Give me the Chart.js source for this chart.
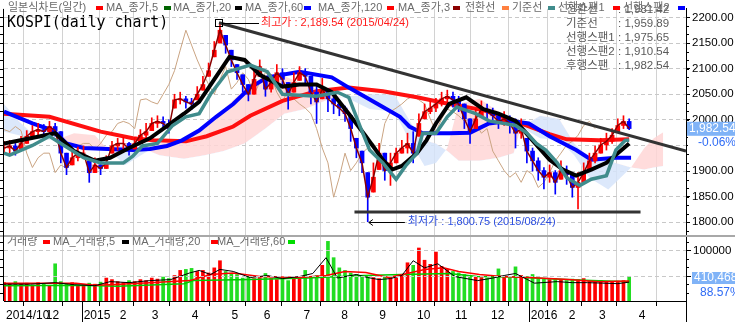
<!DOCTYPE html>
<html>
<head>
<meta charset="utf-8">
<script src="https://cdn.jsdelivr.net/npm/chart.js@4.4.1/dist/chart.umd.min.js"></script>
<style>
  html, body { margin: 0; padding: 0; background: #fff; overflow: hidden; }
  canvas { display: block; }
</style>
</head>
<body>
<canvas id="kospiChart" width="735" height="322"></canvas>
<script>
// x values are trading-day indices counted from the first candle on screen
const SAMPLE_STEP = 3;      // one candle sample every 3 trading days
const LAG_DAYS = 18;        // 후행스팬 is drawn shifted back by this many days

const monthDays = [0, 21, 41, 60, 77, 98, 119, 136, 157, 177, 197, 217, 237, 256, 277, 297, 313, 334];
const monthLabels = ["2014/10", "12", "2015", "2", "3", "4", "5", "6", "7", "8", "9", "10", "11", "12", "2016", "2", "3", "4"];
const priceTicks = [1800, 1850, 1900, 1950, 2000, 2050, 2100, 2150, 2200];
const volumeTicks = [50000, 100000];

// KOSPI samples (close / low / high)
const closes = [
    1945, 1949, 1939, 1954, 1968, 1977, 1981, 1977, 1987, 1979,
    1935, 1907, 1926, 1935, 1935, 1897, 1912, 1905, 1916, 1949,
    1954, 1954, 1943, 1954, 1970, 1977, 1993, 1997, 1993, 1983,
    2039, 2041, 2035, 2031, 2050, 2069, 2096, 2136, 2175, 2146,
    2117, 2092, 2069, 2050, 2079, 2104, 2060, 2073, 2092, 2079,
    2050, 2073, 2092, 2085, 2054, 2035, 2060, 2041, 2031, 2023,
    2012, 1983, 1945, 1916, 1849, 1888, 1935, 1901, 1916, 1935,
    1945, 1954, 1935, 1993, 2016, 2023, 2031, 2041, 2046, 2039,
    2031, 2002, 1977, 2002, 2021, 2016, 2008, 1997, 2002, 1993,
    1974, 1983, 1939, 1920, 1901, 1888, 1897, 1878, 1901, 1893,
    1868, 1878, 1897, 1920, 1935, 1951, 1958, 1970, 1989, 1997,
    1983
];
const lows = [
    1935, 1935, 1931, 1943, 1954, 1964, 1970, 1966, 1974, 1968,
    1916, 1893, 1912, 1920, 1924, 1878, 1897, 1893, 1905, 1935,
    1941, 1943, 1931, 1943, 1954, 1962, 1979, 1985, 1981, 1974,
    2023, 2031, 2023, 2020, 2039, 2058, 2085, 2123, 2150, 2130,
    2104, 2079, 2054, 2037, 2050, 2085, 2046, 2054, 2073, 2065,
    2021, 2054, 2077, 2069, 2031, 1993, 2041, 2016, 2012, 2008,
    1997, 1958, 1926, 1897, 1801, 1859, 1903, 1882, 1872, 1916,
    1935, 1935, 1916, 1968, 2002, 2012, 2016, 2027, 2031, 2025,
    2016, 1983, 1954, 1983, 2006, 2002, 1993, 1983, 1989, 1974,
    1945, 1964, 1916, 1900, 1882, 1865, 1878, 1855, 1884, 1874,
    1849, 1826, 1878, 1903, 1916, 1935, 1941, 1954, 1977, 1983,
    1981
];
const highs = [
    1958, 1960, 1954, 1968, 1979, 1989, 1993, 1991, 1997, 1993,
    1977, 1935, 1939, 1947, 1949, 1920, 1926, 1920, 1930, 1958,
    1964, 1966, 1956, 1966, 1981, 1993, 2004, 2008, 2006, 2000,
    2050, 2054, 2046, 2042, 2065, 2085, 2111, 2153, 2190, 2165,
    2136, 2108, 2088, 2069, 2098, 2117, 2085, 2088, 2108, 2100,
    2073, 2092, 2104, 2100, 2085, 2069, 2081, 2060, 2046, 2039,
    2027, 2008, 1964, 1939, 1897, 1916, 1954, 1935, 1935, 1945,
    1960, 1974, 1977, 2012, 2031, 2037, 2042, 2054, 2058, 2054,
    2046, 2031, 2002, 2021, 2037, 2031, 2023, 2012, 2016, 2008,
    2002, 2002, 1964, 1945, 1926, 1907, 1912, 1901, 1920, 1910,
    1897, 1897, 1916, 1935, 1949, 1964, 1974, 1983, 2002, 2008,
    2002
];
const volumes = [
    36000, 34000, 38000, 33000, 35000, 31000, 36000, 34000, 30000, 73000,
    38000, 33000, 36000, 30000, 32000, 35000, 33000, 37000, 45000, 42000,
    38000, 36000, 40000, 38000, 42000, 40000, 45000, 43000, 47000, 44000,
    50000, 60000, 62000, 64000, 58000, 60000, 55000, 65000, 79000, 58000,
    54000, 52000, 45000, 48000, 44000, 46000, 54000, 45000, 42000, 46000,
    40000, 44000, 48000, 60000, 46000, 50000, 70000, 117000, 85000, 65000,
    60000, 55000, 52000, 48000, 50000, 46000, 44000, 48000, 46000, 45000,
    52000, 75000, 70000, 104000, 80000, 72000, 96000, 68000, 62000, 58000,
    55000, 52000, 50000, 48000, 46000, 45000, 48000, 63000, 47000, 45000,
    67000, 50000, 48000, 52000, 45000, 44000, 42000, 44000, 42000, 40000,
    43000, 42000, 44000, 40000, 38000, 40000, 38000, 37000, 39000, 40000,
    48000
];

// moving averages and ichimoku lines: [day], [value]
const ma120Days = [0, 24, 51, 68, 79, 96, 107, 121, 130, 147, 165, 182, 200, 218, 235, 253, 270, 288, 297, 314, 330];
const ma120 = [2012, 2006, 1977, 1964, 1960, 1958, 1968, 1987, 2008, 2037, 2056, 2063, 2056, 2044, 2031, 2019, 1997, 1972, 1962, 1960, 1962];

const ma60Days = [0, 15, 26, 33, 42, 68, 77, 86, 94, 103, 112, 121, 130, 139, 156, 173, 182, 200, 209, 214, 221, 235, 246, 256, 267, 277, 288, 302, 310, 323, 331];
const ma60 = [2016, 1993, 1979, 1954, 1945, 1941, 1943, 1949, 1960, 1979, 2006, 2031, 2063, 2083, 2094, 2083, 2063, 2025, 2006, 1987, 1974, 1974, 1975, 1993, 1998, 1993, 1968, 1941, 1922, 1926, 1926];

const ma20Days = [0, 14, 27, 37, 48, 56, 66, 77, 88, 95, 103, 111, 119, 127, 135, 147, 156, 165, 173, 182, 191, 200, 205, 210, 218, 223, 228, 235, 244, 253, 261, 270, 279, 288, 295, 302, 310, 318, 326, 330];
const ma20 = [1954, 1964, 1974, 1939, 1920, 1926, 1945, 1964, 1993, 2012, 2035, 2079, 2123, 2117, 2088, 2065, 2069, 2069, 2054, 2012, 1968, 1922, 1903, 1910, 1935, 1960, 1993, 2031, 2044, 2021, 2012, 1998, 1960, 1922, 1903, 1891, 1903, 1916, 1941, 1954];

const baseLineDays = [0, 3, 15, 24, 30, 42, 51, 63, 68, 73, 81, 89, 96, 103, 109, 118, 130, 139, 147, 165, 176, 182, 188, 193, 200, 207, 212, 218, 221, 228, 234, 239, 249, 256, 270, 276, 281, 286, 292, 297, 304, 310, 318, 323, 328, 330];
const baseLine = [1935, 1931, 1950, 1968, 1954, 1926, 1916, 1916, 1929, 1949, 1954, 1989, 2006, 2012, 2050, 2094, 2107, 2094, 2050, 2046, 2054, 2044, 1987, 1941, 1916, 1884, 1910, 1935, 1974, 1974, 2006, 2025, 2012, 1998, 1989, 1974, 1954, 1941, 1916, 1887, 1872, 1884, 1891, 1941, 1960, 1960];

const spanDays = [0, 8, 16, 27, 37, 48, 55, 64, 74, 82, 95, 106, 116, 127, 138, 148, 159, 172, 182, 193, 206, 215, 222, 228, 234, 240, 251, 261, 269, 273, 283, 293, 301, 309, 319, 331, 338, 343, 348];
const span1 = [1977, 1970, 1962, 1960, 1974, 1970, 1941, 1912, 1935, 1954, 1962, 1983, 2021, 2060, 2088, 2085, 2069, 2050, 2041, 2021, 2016, 1954, 1910, 1916, 1945, 2031, 2041, 2016, 1997, 1986, 1964, 1960, 1931, 1887, 1864, 1907, 1945, 1964, 1976];
const span2 = [2031, 1997, 1970, 1960, 1951, 1943, 1943, 1951, 1943, 1931, 1924, 1931, 1939, 1954, 1983, 2012, 2021, 2041, 2046, 2050, 2050, 1993, 1960, 1954, 1939, 1920, 1920, 1926, 1935, 1986, 2008, 2002, 1954, 1926, 1920, 1907, 1903, 1907, 1910];

// volume moving averages
const volMa5Days = [0, 14, 27, 37, 48, 56, 66, 77, 88, 98, 103, 109, 114, 121, 130, 139, 147, 156, 163, 170, 176, 186, 192, 198, 204, 210, 216, 222, 229, 238, 250, 258, 264, 270, 280, 292, 300, 308, 316, 324, 330];
const volMa5 = [33000, 33000, 36000, 32000, 30000, 38000, 36000, 40000, 42000, 55000, 60000, 52000, 62000, 58000, 46000, 50000, 44000, 48000, 54000, 85000, 45000, 52000, 46000, 42000, 44000, 50000, 79000, 65000, 73000, 48000, 40000, 45000, 50000, 54000, 35000, 38000, 36000, 36000, 35000, 34000, 37000];
const volMa20Days = [0, 38, 48, 56, 77, 98, 109, 121, 135, 156, 170, 180, 191, 203, 214, 222, 232, 240, 251, 263, 277, 298, 314, 330];
const volMa20 = [35000, 35000, 31000, 32000, 36000, 40000, 52000, 55000, 48000, 46000, 50000, 58000, 56000, 46000, 55000, 62000, 65000, 58000, 52000, 48000, 46000, 42000, 38000, 39000];
const volMa60Days = [0, 40, 60, 95, 100, 130, 160, 190, 210, 235, 250, 270, 290, 310, 330];
const volMa60 = [30000, 31000, 29000, 34000, 40000, 42000, 45000, 50000, 52000, 54000, 48000, 47000, 43000, 40000, 38000];

// trend lines and marked extremes
const trendDays = [113.5, 360];
const trendValues = [2189.54, 1939];
const supportDays = [185, 336];
const supportValues = [1820, 1820];
const HIGH_DAY = 113.5, HIGH_VALUE = 2189.54;
const LOW_DAY = 192.6, LOW_VALUE = 1800.75;
const LAST_CLOSE = 1982.54;

const priceLegend = [
    ["일본식차트(일간)", 8, 96, "#ff0000"],
    ["MA_종가,5", 106, 164, "#006400"],
    ["MA_종가,20", 173, 235, "#000000"],
    ["MA_종가,60", 245, 304, "#0000ff"],
    ["MA_종가,120", 318, 387, "#ff0000"],
    ["MA_종가,3", 398, 453, "#8b0000"],
    ["전환선", 465, 502, "#ff8040"],
    ["기준선", 512, 548, "#408c8c"],
    ["선행스팬1", 558, 613, "#ff0000"],
    ["선행스팬2", 623, 678, "#0000ff"]
];
const volumeLegend = [
    ["거래량", 7, 43, "#ff0000"],
    ["MA_거래량,5", 53, 122, "#000000"],
    ["MA_거래량,20", 132, 211, "#ff0000"],
    ["MA_거래량,60", 217, 288, "#00dd00"]
];
const infoRows = [
    ["전환선", ": 1,981.42"],
    ["기준선", ": 1,959.89"],
    ["선행스팬1", ": 1,975.65"],
    ["선행스팬2", ": 1,910.54"],
    ["후행스팬", ": 1,982.54"]
];

const FONT = '"Liberation Sans", "Noto Sans CJK KR", sans-serif';
const sampleDays = closes.map((_, i) => i * SAMPLE_STEP);
const pts = (days, vals) => days.map((d, i) => ({ x: d, y: vals[i] }));
const isUp = closes.map((c, i) => i === 0 || c >= closes[i - 1]);
const candleColors = isUp.map(u => u ? "#ff0000" : "#0000ff");
const volumeColors = isUp.map(u => u ? "#ff0000" : "#22dd22");
const bodies = closes.map((c, i) => {
    const o = i === 0 ? c : closes[i - 1];
    return [Math.max(lows[i], Math.min(o, c)), Math.min(highs[i], Math.max(o, c))];
});

function lineSet(data, color, width, order, axis) {
    return {
        type: "line", data: data, borderColor: color, borderWidth: width,
        pointRadius: 0, fill: false, tension: 0, order: order, yAxisID: axis || "y"
    };
}

function text(ctx, s, x, y, color, size, align) {
    ctx.fillStyle = color;
    ctx.font = size + "px " + FONT;
    ctx.textAlign = align || "left";
    ctx.textBaseline = "middle";
    ctx.fillText(s, x, y);
}

function hline(ctx, x1, x2, y, color, w) {
    ctx.strokeStyle = color;
    ctx.lineWidth = w || 1;
    ctx.beginPath();
    ctx.moveTo(x1, y);
    ctx.lineTo(x2, y);
    ctx.stroke();
}

function vline(ctx, x, y1, y2, color, w) {
    ctx.strokeStyle = color;
    ctx.lineWidth = w || 1;
    ctx.beginPath();
    ctx.moveTo(x, y1);
    ctx.lineTo(x, y2);
    ctx.stroke();
}

const overlay = {
    id: "overlay",
    beforeDatasetsDraw(chart) {
        const ctx = chart.ctx;
        ctx.save();
        infoRows.forEach(([name, val], i) => {
            text(ctx, name, 566, 10 + i * 14, "#5a5a5a", 11.5);
            text(ctx, val, 618, 10 + i * 14, "#5a5a5a", 11.5);
        });
        priceLegend.forEach(([label, tx, mx, color]) => {
            text(ctx, label, tx, 8, "#6a6a6a", 11);
            ctx.fillStyle = color;
            ctx.fillRect(mx, 6, 7, 4);
        });
        volumeLegend.forEach(([label, tx, mx, color]) => {
            text(ctx, label, tx, 242, "#6a6a6a", 11);
            ctx.fillStyle = color;
            ctx.fillRect(mx, 240, 7, 4);
        });
        ctx.restore();
    },
    afterDatasetsDraw(chart) {
        const ctx = chart.ctx;
        const xs = chart.scales.x, ys = chart.scales.y, yv = chart.scales.yv;
        const area = chart.chartArea;
        ctx.save();

        // panel separator
        hline(ctx, 0, 735, 236, "#a8a8a8", 2);

        // minor ticks, right and left
        for (let v = 1650; v <= 2215; v += 50 / 3) {
            const y = Math.round(ys.getPixelForValue(v)) + 0.5;
            if (y < area.top || y > 233) continue;
            hline(ctx, area.right, area.right + 3, y, "#000");
            hline(ctx, 0, 3, y, "#000");
        }
        for (let v = 0; v <= 130000; v += 50000 / 3) {
            const y = Math.round(yv.getPixelForValue(v)) + 0.5;
            if (y < 238 || y > area.bottom) continue;
            hline(ctx, area.right, area.right + 3, y, "#000");
            hline(ctx, 0, 3, y, "#000");
        }
        vline(ctx, 3.5, area.top, area.bottom, "#000");
        vline(ctx, area.right + 0.5, area.bottom, 322, "#000");
        [2, 14].forEach(i => {
            const x = Math.round(xs.getPixelForValue(monthDays[i])) + 0.5;
            vline(ctx, x, area.bottom, 322, "#000");
        });

        // volume axis gridlines and labels
        volumeTicks.forEach(v => {
            const y = Math.round(yv.getPixelForValue(v)) + 0.5;
            ctx.setLineDash([4, 3]);
            hline(ctx, area.left, area.right, y, "#c8c8c8");
            ctx.setLineDash([]);
            hline(ctx, area.right, area.right + 5, y, "#000");
            text(ctx, String(v), area.right + 7, y, "#000", 11.5);
        });

        // title
        ctx.save();
        ctx.translate(7, 23);
        ctx.scale(0.93, 1);
        ctx.fillStyle = "#000";
        ctx.font = '16px "DejaVu Sans Mono", monospace';
        ctx.textBaseline = "middle";
        ctx.fillText("KOSPI(daily chart)", 0, 0);
        ctx.restore();

        // high marker
        const hx = xs.getPixelForValue(HIGH_DAY), hy = ys.getPixelForValue(HIGH_VALUE);
        ctx.strokeStyle = "#000";
        ctx.lineWidth = 1;
        ctx.strokeRect(Math.round(hx) - 3.5, Math.round(hy) - 3.5, 7, 7);
        hline(ctx, hx + 3, hx + 40, Math.round(hy) + 0.5, "#000");
        text(ctx, "최고가 : 2,189.54 (2015/04/24)", hx + 42, hy, "#ff1a1a", 11);

        // low marker
        const lx = xs.getPixelForValue(LOW_DAY), ly = Math.round(ys.getPixelForValue(LOW_VALUE)) + 0.5;
        hline(ctx, lx, lx + 36, ly, "#000");
        ctx.beginPath();
        ctx.moveTo(lx + 4, ly - 3);
        ctx.lineTo(lx, ly);
        ctx.lineTo(lx + 4, ly + 3);
        ctx.stroke();
        text(ctx, "최저가 : 1,800.75 (2015/08/24)", lx + 39, ly - 1, "#2d4fe0", 11);

        // current price box
        const cy = ys.getPixelForValue(LAST_CLOSE);
        ctx.fillStyle = "#ffffff";
        ctx.fillRect(area.right + 2, cy + 7, 735 - area.right, 14);
        ctx.fillStyle = "#80b3f7";
        ctx.fillRect(area.right + 1, cy - 7, 735 - area.right, 14);
        text(ctx, "1,982.54", area.right + 3, cy, "#ffffff", 12);
        text(ctx, "-0.06%", area.right + 12, cy + 14, "#2f6cf5", 12);

        // current volume box
        ctx.fillStyle = "#80b3f7";
        ctx.fillRect(area.right + 6, 272, 735 - area.right, 12);
        text(ctx, "410,468", area.right + 8, 278, "#ffffff", 12);
        text(ctx, "88.57%", area.right + 14, 293, "#2f6cf5", 12);

        ctx.restore();
    }
};

const datasets = [
    {
        type: "line", data: pts(spanDays, span1), borderWidth: 0, pointRadius: 0, tension: 0, order: 100,
        fill: { target: "+1", above: "rgba(255, 214, 214, 0.85)", below: "rgba(214, 228, 250, 0.85)" }
    },
    lineSet(pts(spanDays, span2), "rgba(0,0,0,0)", 0, 101),
    lineSet(sampleDays.map((d, i) => ({ x: d - LAG_DAYS, y: closes[i] })), "#caa482", 1, 90),
    {
        type: "bar", yAxisID: "yv", data: pts(sampleDays, volumes), backgroundColor: volumeColors,
        barThickness: 3, grouped: false, order: 85
    },
    lineSet(pts(volMa60Days, volMa60), "#00cc00", 1.5, 80, "yv"),
    lineSet(pts(volMa20Days, volMa20), "#ff0000", 1.5, 79, "yv"),
    lineSet(pts(volMa5Days, volMa5), "#000000", 1, 78, "yv"),
    lineSet(pts(ma120Days, ma120), "#ff1010", 4, 70),
    lineSet(pts(ma60Days, ma60), "#0000ff", 4, 69),
    {
        type: "bar", data: sampleDays.map((d, i) => ({ x: d, y: [lows[i], highs[i]] })),
        backgroundColor: candleColors, barThickness: 1, grouped: false, order: 60
    },
    {
        type: "bar", data: sampleDays.map((d, i) => ({ x: d, y: bodies[i] })),
        backgroundColor: candleColors, barThickness: 4, grouped: false, order: 59
    },
    lineSet(pts(sampleDays, closes), "#8b0000", 1.5, 58),
    lineSet(pts(ma20Days, ma20), "#000000", 4, 50),
    lineSet(pts(baseLineDays, baseLine), "#408c8c", 3.5, 49),
    lineSet(pts(supportDays, supportValues), "#333333", 3, 10),
    lineSet(pts(trendDays, trendValues), "#333333", 3, 9)
];

new Chart(document.getElementById("kospiChart"), {
    type: "line",
    data: { datasets: datasets },
    options: {
        responsive: false,
        animation: false,
        events: [],
        layout: { padding: { left: 4, top: 3, right: 0, bottom: 0 } },
        plugins: { legend: { display: false }, tooltip: { enabled: false } },
        scales: {
            x: {
                type: "linear", min: 0, max: 360, offset: false,
                afterBuildTicks: s => { s.ticks = monthDays.map(v => ({ value: v })); },
                afterFit: s => { s.height = 21; },
                ticks: {
                    autoSkip: false, maxRotation: 0, align: "start", labelOffset: 2, padding: 2,
                    color: "#000", font: { family: FONT, size: 12 },
                    callback: (v, i) => monthLabels[i]
                },
                grid: { color: "#d2d2d2", tickColor: "#000", tickLength: 5 },
                border: { display: true, color: "#000" }
            },
            y: {
                type: "linear", position: "right", min: 1646.3, max: 2216.65,
                afterBuildTicks: s => { s.ticks = priceTicks.map(v => ({ value: v })); },
                afterFit: s => { s.width = 49; },
                ticks: {
                    padding: 2, color: "#000", font: { family: FONT, size: 11.5 },
                    callback: v => v.toFixed(2)
                },
                grid: { color: "#c8c8c8", tickColor: "#000", tickLength: 4, tickBorderDash: [] },
                border: { display: true, color: "#000", dash: [4, 3] }
            },
            yv: { type: "linear", display: false, min: 0, max: 573077 }
        }
    },
    plugins: [overlay]
});
</script>
</body>
</html>
